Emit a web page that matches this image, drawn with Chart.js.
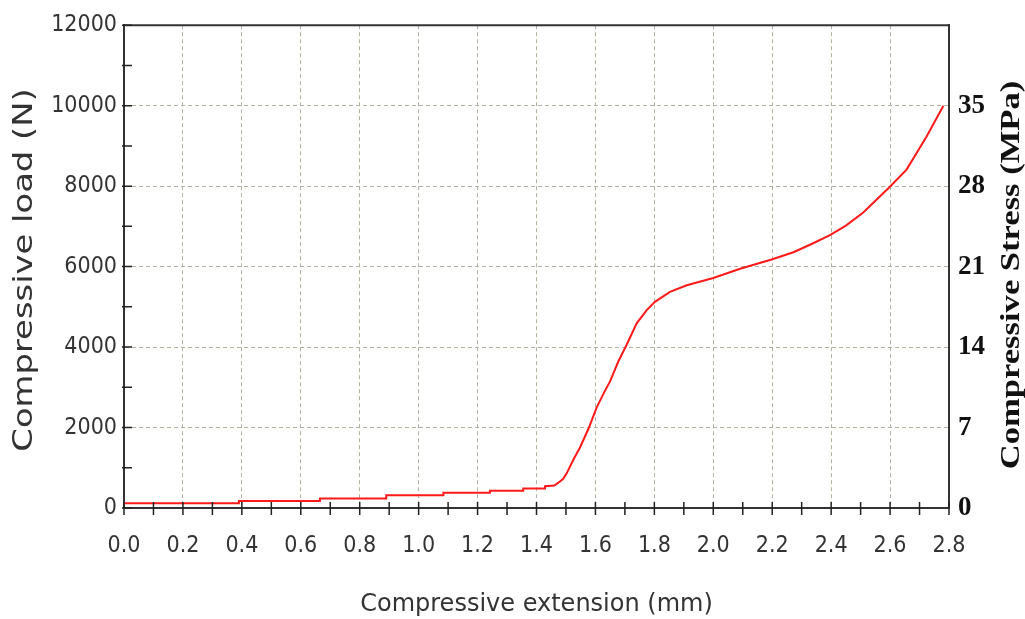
<!DOCTYPE html>
<html><head><meta charset="utf-8">
<script src="https://cdn.jsdelivr.net/npm/chart.js@4.4.1/dist/chart.umd.min.js"></script>
<style>html,body{margin:0;padding:0;background:#fff;}#wrap{width:1025px;height:619px;position:relative;}</style>
</head><body><div id="wrap"><canvas id="c"></canvas></div>
<script>
// Compressive extension (mm)
const extension = [0, 0.39, 0.39, 0.665, 0.665, 0.89, 0.89, 1.084, 1.084, 1.242, 1.242, 1.355, 1.355, 1.429, 1.429, 1.46, 1.473, 1.49, 1.502, 1.525, 1.548, 1.576, 1.604, 1.628, 1.650, 1.678, 1.706, 1.740, 1.774, 1.802, 1.853, 1.910, 2.0, 2.091, 2.198, 2.272, 2.33, 2.396, 2.45, 2.509, 2.596, 2.656, 2.724, 2.781];
// Compressive load (N)
const load = [115, 115, 172, 172, 239, 239, 320, 320, 377, 377, 427, 427, 485, 485, 542, 560, 623, 720, 855, 1200, 1510, 1963, 2496, 2850, 3154, 3647, 4058, 4590, 4920, 5125, 5372, 5537, 5717, 5946, 6177, 6357, 6550, 6783, 7020, 7343, 7959, 8410, 9233, 10000];
const extensionTicks = [0, 0.2, 0.4, 0.6, 0.8, 1.0, 1.2, 1.4, 1.6, 1.8, 2.0, 2.2, 2.4, 2.6, 2.8];
const loadTicks = [0, 2000, 4000, 6000, 8000, 10000, 12000];
const stressTicks = [0, 7, 14, 21, 28, 35];
const xTitle = 'Compressive extension (mm)';
const yTitle = 'Compressive load (N)';
const y2Title = 'Compressive Stress (MPa)';

const sansC = "'DejaVu Sans Condensed', 'DejaVu Sans', sans-serif";
const gridColor = '#b3b1a2';
const axisColor = '#333';

const decor = {
  id: 'decor',
  afterDraw(chart) {
    const {ctx, chartArea: a, scales} = chart;
    ctx.save();
    ctx.strokeStyle = axisColor; ctx.lineWidth = 2;
    ctx.beginPath(); ctx.moveTo(a.left - 1, a.top); ctx.lineTo(a.right + 1, a.top); ctx.stroke();
    ctx.strokeStyle = '#222'; ctx.lineWidth = 1.5;
    ctx.beginPath();
    for (let i = 0; i <= 28; i++) {
      const px = scales.x.getPixelForValue(i / 10);
      ctx.moveTo(px, a.bottom - 6); ctx.lineTo(px, a.bottom + 7);
    }
    for (let i = 0; i <= 12; i++) {
      const py = scales.y.getPixelForValue(i * 1000);
      ctx.moveTo(a.left - 2, py); ctx.lineTo(a.left + 8, py);
    }
    ctx.stroke();
    const rot = (text, x, y, font, color, stretch) => {
      ctx.save();
      ctx.translate(x, y); ctx.rotate(-Math.PI / 2); ctx.scale(stretch, 1);
      ctx.font = font; ctx.fillStyle = color; ctx.textAlign = 'center'; ctx.textBaseline = 'middle';
      ctx.fillText(text, 0, 0);
      ctx.restore();
    };
    rot(yTitle, 25, 270, "26px 'DejaVu Sans', sans-serif", '#333', 1.3);
    rot(y2Title, 1012, 275, "bold 27px 'Liberation Serif', serif", '#111', 1.28);
    ctx.restore();
  }
};

new Chart(document.getElementById('c'), {
  type: 'line',
  data: {
    datasets: [{
      data: extension.map((x, i) => ({x, y: load[i]})),
      borderColor: '#ff1a1a', borderWidth: 2, pointRadius: 0, tension: 0, fill: false
    }]
  },
  options: {
    responsive: true, maintainAspectRatio: false, animation: false,
    layout: {padding: {top: 21, left: 0, right: 0, bottom: 0}},
    plugins: {legend: {display: false}, tooltip: {enabled: false}},
    scales: {
      x: {
        type: 'linear', min: 0, max: 2.8,
        afterBuildTicks: s => { s.ticks = extensionTicks.map(v => ({value: v})); },
        afterFit: s => { s.height = 111; },
        ticks: {callback: v => Number(v).toFixed(1), font: {family: sansC, size: 23}, color: '#333', padding: 24, maxRotation: 0, autoSkip: false},
        grid: {color: gridColor, lineWidth: 1, drawTicks: false},
        border: {display: true, color: axisColor, width: 2, dash: [4, 3]},
        title: {display: true, text: xTitle, font: {family: "'DejaVu Sans', sans-serif", size: 24}, color: '#333', padding: {top: 0, bottom: 0}}
      },
      y: {
        type: 'linear', position: 'left', min: 0, max: 12000,
        afterBuildTicks: s => { s.ticks = loadTicks.map(v => ({value: v})); },
        afterFit: s => { s.width = 124; },
        ticks: {callback: v => String(v), font: {family: sansC, size: 23}, color: '#333', padding: 7, autoSkip: false},
        grid: {color: gridColor, lineWidth: 1, drawTicks: false},
        border: {display: true, color: axisColor, width: 2, dash: [4, 3]}
      },
      y2: {
        type: 'linear', position: 'right', min: 0, max: 42,
        afterBuildTicks: s => { s.ticks = stressTicks.map(v => ({value: v})); },
        afterFit: s => { s.width = 76; },
        ticks: {callback: v => String(v), font: {family: "'Liberation Serif', serif", size: 27, weight: 'bold'}, color: '#111', padding: 9, autoSkip: false},
        grid: {display: false, drawTicks: false},
        border: {display: true, color: axisColor, width: 2}
      }
    }
  },
  plugins: [decor]
});
</script>
</body></html>
